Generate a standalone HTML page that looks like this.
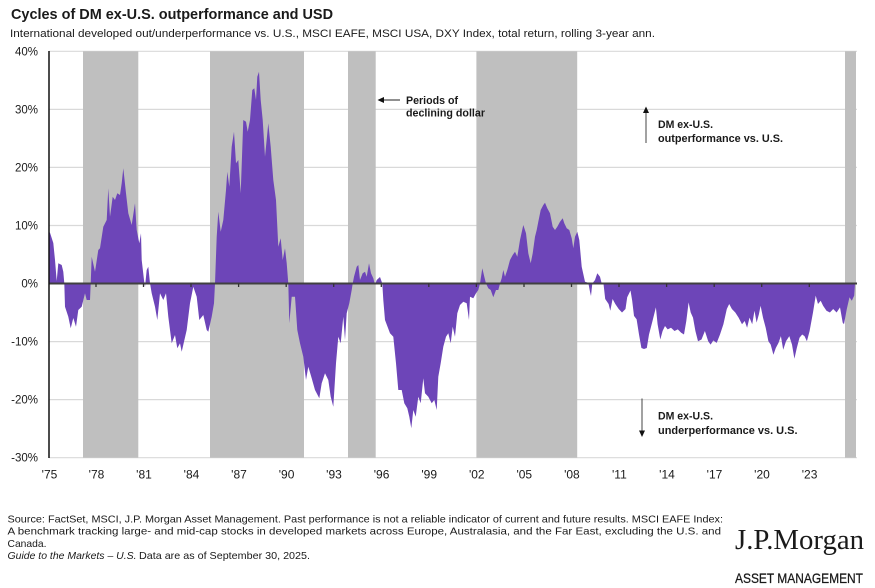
<!DOCTYPE html>
<html>
<head>
<meta charset="utf-8">
<style>
  html,body{margin:0;padding:0;background:#fff;}
  svg{display:block;}
  text{font-family:"Liberation Sans",Arial,sans-serif;fill:#1a1a1a;}
</style>
</head>
<body>
<svg width="875" height="588" viewBox="0 0 875 588" xmlns="http://www.w3.org/2000/svg">
  <rect x="0" y="0" width="875" height="588" fill="#fff"/>

  <!-- Title -->
  <text x="11" y="19" font-size="15" font-weight="bold" textLength="322" lengthAdjust="spacingAndGlyphs">Cycles of DM ex-U.S. outperformance and USD</text>
  <text x="10" y="37" font-size="11" textLength="645" lengthAdjust="spacingAndGlyphs" fill="#222">International developed out/underperformance vs. U.S., MSCI EAFE, MSCI USA, DXY Index, total return, rolling 3-year ann.</text>

  <!-- gridlines -->
  <g stroke="#d9d9d9" stroke-width="1.2">
    <line x1="49" y1="51.3" x2="857" y2="51.3"/>
    <line x1="49" y1="109.4" x2="857" y2="109.4"/>
    <line x1="49" y1="167.4" x2="857" y2="167.4"/>
    <line x1="49" y1="225.5" x2="857" y2="225.5"/>
    <line x1="49" y1="341.6" x2="857" y2="341.6"/>
    <line x1="49" y1="399.6" x2="857" y2="399.6"/>
    <line x1="49" y1="457.7" x2="857" y2="457.7"/>
  </g>

  <!-- declining dollar bands -->
  <g fill="#bfbfbf">
    <rect x="83" y="51.3" width="55.3" height="406.4"/>
    <rect x="210" y="51.3" width="94" height="406.4"/>
    <rect x="348" y="51.3" width="27.7" height="406.4"/>
    <rect x="476.4" y="51.3" width="100.8" height="406.4"/>
    <rect x="845" y="51.3" width="11" height="406.4"/>
  </g>

  <!-- area series -->
  <path fill="#6d45b8" d="M49,283.5 L49,232 L50,232.7 L53.3,243 L55,260 L56.7,281 L58.3,263.3 L61.7,265 L63.3,271.7 L64.3,283.3 L65,306.7 L68.3,316.7 L70.7,328.3 L73.3,318 L76,326.7 L78.3,310 L81.7,306.7 L85,293.3 L86.7,300 L90,300 L90.7,283.3 L91.7,256.7 L95,271.7 L98.3,250 L100,248.3 L103.3,226.7 L106.7,220 L108.3,188.3 L110,216.7 L112.7,196.7 L115,200 L117.3,193.3 L120,195 L121.7,183.3 L123.3,168.3 L126,193.3 L128.3,213.3 L131.7,225 L135,203.3 L136.7,230 L139.3,243.3 L141,233.3 L141.7,260 L144,280 L145,286.7 L146.7,270 L148.3,266.7 L150,283.3 L151.7,293.3 L155,306.7 L157.3,320 L160,293.3 L163.3,300 L166,293.3 L168.3,316.7 L171.7,343.3 L175,335 L177.3,348.3 L180,343.3 L181.7,351.7 L184,341.7 L186.7,330 L190,303.3 L193.3,286.7 L196.7,296.7 L199.3,320 L203.3,315 L206.7,330 L208.3,331.7 L211.7,316.7 L214,303.3 L215,283.5 L216.7,236.7 L218.3,211.7 L220.7,231.7 L223.3,220 L226,190 L227.3,171.7 L229.3,186.7 L231.7,146.7 L234,131.7 L236,163.3 L238.3,160 L240.7,193.3 L243.3,120 L246,121.7 L247.7,131.7 L250,120 L252.3,90 L254.3,88.3 L256,100 L257.3,76.7 L259,71.7 L260.7,100 L262.7,120 L265,156.7 L268.3,123.3 L270.7,146.7 L273.3,180 L276,200 L278.3,246.7 L280.7,238.3 L282.7,260 L285,248.3 L286.7,263.3 L288.3,283.5 L289.3,323.3 L291.7,296.7 L295,296.7 L297.3,330 L300,343.3 L303.3,356.7 L306,380 L308.3,366.7 L311.7,378.3 L315,390 L319.3,398.3 L321.7,383.3 L325,373.3 L328.3,380 L330.7,396.7 L333.3,406.7 L336,363.3 L338.3,336.7 L340.7,343.3 L343.3,316.7 L345,340 L346.7,313.3 L349.3,303.3 L351.7,290 L352.7,283.5 L354,276.7 L356.7,266.7 L358.3,265 L360,280 L362.7,273.3 L365,271.7 L366.7,276.7 L369,263.3 L371,273.3 L373.3,278.3 L375,285 L376.7,280 L380,277 L382.3,283.5 L383.3,300 L385,320 L390,333.3 L393.3,336.7 L396,363.3 L398.3,390 L401.7,390 L404.3,403.3 L407.3,408.3 L409.3,416.7 L411.3,428.3 L413.3,410 L415.7,416.7 L418.3,396.7 L420.7,403.3 L423.3,378.3 L425,393.3 L428.3,396.7 L431.7,403.3 L434.3,400 L436.7,410 L438.3,376.7 L440.7,363.3 L443.3,346.7 L446,336.7 L448.3,333.3 L450.7,343.3 L452.7,326.7 L455,336.7 L457.3,313.3 L460,305 L463.3,301.7 L466.7,303.3 L469,320 L470,296.7 L473.3,298.3 L476,293.3 L478.3,290 L480,283.5 L482.3,268.3 L484.3,276.7 L486,283.5 L488.3,288.3 L490.7,290 L493.3,297.3 L496,290 L498.3,290 L500,283.5 L501.7,278.3 L503.3,270 L505,276.7 L507.3,270 L510,260 L512.7,255 L515,251.7 L517.3,256.7 L520,240 L523.3,225 L526,233.3 L528.3,253.3 L530.7,263.3 L532.7,253.3 L535,236.7 L536.7,230 L538.3,221.7 L540.7,210 L543.3,205 L545,202.7 L547.3,208.3 L550,213.3 L552.7,226.7 L555,230 L557.3,226.7 L560,221.7 L562.7,218.3 L564.3,223.3 L566.7,228.3 L569.3,230 L571.7,238.3 L573.3,248.3 L575,236.7 L577.3,231.7 L579.3,240 L581.7,266.7 L585,281.7 L588.3,282.7 L590,291.7 L591,296 L592.3,283.5 L595,280 L597.3,273.3 L600,276.7 L601.7,283.5 L603.5,283.8 L605.2,299 L608.6,304 L610.3,310.8 L612.6,299 L615.3,304 L618.7,309 L622,312.5 L625.5,309 L627.2,297.3 L630.5,290.5 L632.2,300.7 L634,315.9 L636.6,319.3 L639,334.5 L641.4,348 L644,349 L646.8,348 L649,334.5 L652.5,321 L655.9,307.4 L657.6,324.3 L660.3,339.5 L662.6,331 L665,326 L667.7,329.4 L671,327.7 L674.5,331 L677.8,329.4 L681.2,332.8 L684,334.5 L686.3,321 L688.6,302.4 L690.7,312.5 L693,317.6 L695.4,331 L698,341.2 L701.5,339.5 L704.9,331 L708.2,341.2 L710.6,344.6 L713.3,340.5 L716.7,342.9 L720,334.5 L723.4,324.3 L726.8,309 L729.2,304 L731.9,309 L735.3,312.5 L738.6,317.6 L742,324.3 L744.7,321 L747.1,327.7 L749.5,317.6 L752.2,324.3 L754.5,310.8 L756.6,322.6 L758.9,314.2 L760.6,305.7 L763,317.6 L765.7,327.7 L768.4,341.2 L770.7,344.6 L773.4,354.7 L775.8,348 L778.5,342.9 L780.9,336.1 L783.2,349.7 L786,341.2 L789.3,336.1 L792,344.6 L794.4,358.8 L796.8,348 L799.5,337.8 L802.2,334.5 L804.5,336.1 L806.9,341.2 L809.6,331 L813,312.5 L815.7,295.6 L818,304 L820.7,300.7 L823.1,305.7 L826.5,310.8 L829.9,312.5 L833.2,309 L836.6,312.5 L840,307.4 L842.7,322.6 L844,324.3 L846.8,309 L849.5,297.3 L851.8,300.7 L854.2,295.6 L855,283.5 Z"/>

  <!-- zero line -->
  <line x1="49" y1="283.5" x2="857" y2="283.5" stroke="#404040" stroke-width="2"/>
  <!-- x ticks -->
  <g stroke="#333" stroke-width="1.3">
    <line x1="96" y1="283.5" x2="96" y2="287"/>
    <line x1="143.5" y1="283.5" x2="143.5" y2="287"/>
    <line x1="191" y1="283.5" x2="191" y2="287"/>
    <line x1="238.6" y1="283.5" x2="238.6" y2="287"/>
    <line x1="286.2" y1="283.5" x2="286.2" y2="287"/>
    <line x1="333.7" y1="283.5" x2="333.7" y2="287"/>
    <line x1="381.3" y1="283.5" x2="381.3" y2="287"/>
    <line x1="428.8" y1="283.5" x2="428.8" y2="287"/>
    <line x1="476.4" y1="283.5" x2="476.4" y2="287"/>
    <line x1="524" y1="283.5" x2="524" y2="287"/>
    <line x1="571.5" y1="283.5" x2="571.5" y2="287"/>
    <line x1="619" y1="283.5" x2="619" y2="287"/>
    <line x1="666.6" y1="283.5" x2="666.6" y2="287"/>
    <line x1="714.2" y1="283.5" x2="714.2" y2="287"/>
    <line x1="761.7" y1="283.5" x2="761.7" y2="287"/>
    <line x1="809.3" y1="283.5" x2="809.3" y2="287"/>
  </g>
  <!-- y axis -->
  <line x1="49" y1="51" x2="49" y2="458" stroke="#111" stroke-width="1.5"/>

  <!-- y labels -->
  <g font-size="11.5" text-anchor="end">
    <text x="38" y="55.5">40%</text>
    <text x="38" y="113.5">30%</text>
    <text x="38" y="171.5">20%</text>
    <text x="38" y="229.5">10%</text>
    <text x="38" y="287.5">0%</text>
    <text x="38" y="345.6">-10%</text>
    <text x="38" y="403.6">-20%</text>
    <text x="38" y="461.7">-30%</text>
  </g>

  <!-- x labels -->
  <g font-size="12" text-anchor="middle">
    <text x="49.5" y="478.5">'75</text>
    <text x="96.5" y="478.5">'78</text>
    <text x="144" y="478.5">'81</text>
    <text x="191.5" y="478.5">'84</text>
    <text x="239" y="478.5">'87</text>
    <text x="286.6" y="478.5">'90</text>
    <text x="334" y="478.5">'93</text>
    <text x="381.6" y="478.5">'96</text>
    <text x="429.2" y="478.5">'99</text>
    <text x="476.8" y="478.5">'02</text>
    <text x="524.3" y="478.5">'05</text>
    <text x="571.9" y="478.5">'08</text>
    <text x="619.4" y="478.5">'11</text>
    <text x="667" y="478.5">'14</text>
    <text x="714.5" y="478.5">'17</text>
    <text x="762" y="478.5">'20</text>
    <text x="809.6" y="478.5">'23</text>
  </g>

  <!-- annotations -->
  <line x1="383" y1="100" x2="400" y2="100" stroke="#222" stroke-width="1"/>
  <polygon points="377.5,100 384,97 384,103" fill="#111"/>
  <text x="406" y="104" font-size="10.8" font-weight="bold" textLength="52" lengthAdjust="spacingAndGlyphs">Periods of</text>
  <text x="406" y="116.5" font-size="10.8" font-weight="bold" textLength="79" lengthAdjust="spacingAndGlyphs">declining dollar</text>

  <line x1="646" y1="112" x2="646" y2="143" stroke="#444" stroke-width="1"/>
  <polygon points="646,106.5 643,113 649,113" fill="#111"/>
  <text x="658" y="128" font-size="10.8" font-weight="bold" textLength="55" lengthAdjust="spacingAndGlyphs">DM ex-U.S.</text>
  <text x="658" y="142.2" font-size="10.8" font-weight="bold" textLength="125" lengthAdjust="spacingAndGlyphs">outperformance vs. U.S.</text>

  <line x1="642" y1="398.5" x2="642" y2="431" stroke="#444" stroke-width="1"/>
  <polygon points="642,437 639,430.5 645,430.5" fill="#111"/>
  <text x="658" y="419.7" font-size="10.8" font-weight="bold" textLength="55" lengthAdjust="spacingAndGlyphs">DM ex-U.S.</text>
  <text x="658" y="434" font-size="10.8" font-weight="bold" textLength="139.5" lengthAdjust="spacingAndGlyphs">underperformance vs. U.S.</text>

  <!-- footer -->
  <g font-size="10.3" fill="#333">
    <text x="7.5" y="522.3" textLength="715.5" lengthAdjust="spacingAndGlyphs">Source: FactSet, MSCI, J.P. Morgan Asset Management. Past performance is not a reliable indicator of current and future results. MSCI EAFE Index:</text>
    <text x="7.5" y="534.6" textLength="713.5" lengthAdjust="spacingAndGlyphs">A benchmark tracking large- and mid-cap stocks in developed markets across Europe, Australasia, and the Far East, excluding the U.S. and</text>
    <text x="7.5" y="546.9" textLength="39" lengthAdjust="spacingAndGlyphs">Canada.</text>
    <text x="7.5" y="559.2" font-style="italic" textLength="129" lengthAdjust="spacingAndGlyphs">Guide to the Markets – U.S.</text>
    <text x="139" y="559.2" textLength="171" lengthAdjust="spacingAndGlyphs">Data are as of September 30, 2025.</text>
  </g>

  <!-- logo -->
  <text x="735" y="549" font-size="28" fill="#111" textLength="129" lengthAdjust="spacingAndGlyphs" style="font-family:'Liberation Serif',serif">J.P.Morgan</text>
  <text x="735" y="583" font-size="14" fill="#111" stroke="#111" stroke-width="0.25" textLength="128" lengthAdjust="spacingAndGlyphs">ASSET MANAGEMENT</text>
</svg>
</body>
</html>
